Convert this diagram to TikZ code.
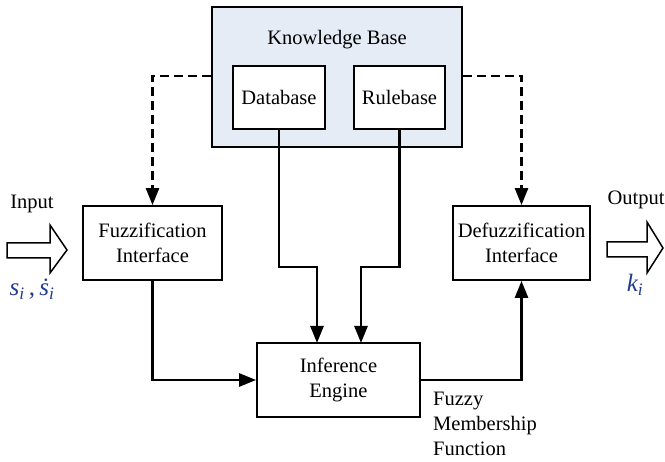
\documentclass[tikz,border=0pt]{standalone}
\usepackage{fontspec}
\setmainfont{Liberation Serif}
\usetikzlibrary{arrows.meta}
\definecolor{kbfill}{HTML}{E5ECF6}
\definecolor{varblue}{HTML}{1F3C8F}
\begin{document}
\begin{tikzpicture}[x=1pt,y=-1pt,
  box/.style={draw=black,line width=1.8pt,fill=white,inner sep=0pt,align=center,font=\fontsize{20.5}{25}\selectfont},
  conn/.style={line width=2.6pt,-{Triangle[length=17pt,width=13pt]}},
  dconn/.style={conn,dash pattern=on 9pt off 5pt},
  lbl/.style={font=\fontsize{20.5}{25}\selectfont,inner sep=0pt},
  var/.style={font=\fontsize{25}{28}\selectfont\itshape,text=varblue,inner sep=0pt},
  blockarrow/.style={draw=black,line width=1.5pt,fill=white}]
\useasboundingbox (0,0) rectangle (665,462);
% Knowledge base
\node[box,fill=kbfill,minimum width=250pt,minimum height=140pt] (kb) at (337,77) {};
\node[lbl] (kbl) at (337,40) {Knowledge Base};
\node[box,minimum width=92pt,minimum height=63pt] (db) at (279,97.5) {Database};
\node[box,minimum width=91pt,minimum height=63pt] (rb) at (399.5,97.5) {Rulebase};
% interfaces
\node[box,minimum width=139pt,minimum height=74pt] (fz) at (152.5,243) {Fuzzification\\Interface};
\node[box,minimum width=137pt,minimum height=74pt] (dfz) at (521.5,243) {Defuzzification\\Interface};
\node[box,minimum width=163pt,minimum height=74pt] (inf) at (338.5,380) {Inference\\Engine};
% connectors
\draw[dconn] (kb.west |- 0,76) -| (fz.north);
\draw[dconn] (kb.east |- 0,76) -| (dfz.north);
\coordinate (dbk) at (279,267);
\coordinate (rbk) at (399.5,267);
\coordinate (inl) at (317,343);
\coordinate (inr) at (361,343);
\draw[conn] (db.south) -- (dbk) -| (inl);
\draw[conn] (rb.south) -- (rbk) -| (inr);
\draw[conn] (fz.south) |- (inf.west);
\draw[conn] (inf.east) -| (dfz.south);
\node[lbl,align=left,anchor=west] (fmf) at (433,424) {Fuzzy\\Membership\\Function};
% input / output
\draw[blockarrow] (7,243) -- (50,243) -- (50,225) -- (67,250) -- (50,273) -- (50,258) -- (7,258) -- cycle;
\draw[blockarrow] (607,242) -- (647,242) -- (647,222) -- (663,248) -- (647,273) -- (647,257) -- (607,257) -- cycle;
\node[lbl] (inlbl) at (32,204) {Input};
\node[lbl] (outlbl) at (636,200) {Output};
\node[var] (sv) at (32,289) {s\textsubscript{i}\,{\upshape,}\,\.{s}\textsubscript{i}};
\node[var] (kv) at (635,285) {k\textsubscript{i}};
\end{tikzpicture}
\end{document}
